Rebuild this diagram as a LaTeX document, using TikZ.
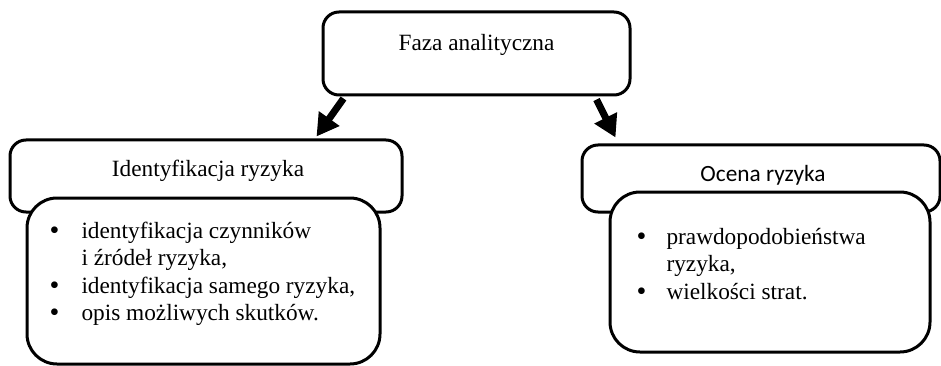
\documentclass[tikz,border=0pt]{standalone}
\usepackage{fontspec}
\setmainfont{Liberation Serif}
\newfontfamily\calibrifont{Carlito}
\usetikzlibrary{arrows.meta}

\newcommand{\bigdot}{\smash{\raisebox{-1pt}{\fontsize{28}{27.5}\selectfont\textbullet}}}

\begin{document}
\begin{tikzpicture}[x=1pt, y=-1pt, line width=3pt,
        box/.style={draw, rounded corners=16pt, fill=white, inner sep=0pt},
        listbox/.style={draw, rounded corners=30pt, fill=white, inner sep=0pt},
        txt/.style={font=\fontsize{23.3}{27.5}\selectfont, text=black, inner sep=0pt},
        bigarrow/.style={line width=7pt, -{Triangle[length=22pt, width=24pt]}}]
        % Frame
        \useasboundingbox (0,0) rectangle (941,366);

        % Top box
        \node[box, minimum width=307pt, minimum height=83pt] (faza) at (476.5,53.5) {};
        \node[txt] (fazatxt) at (476.5,45) {Faza analityczna};

        % Left branch
        \node[box, minimum width=392pt, minimum height=72pt] (ident) at (206,176) {};
        \node[txt] (identtxt) at (208,171) {Identyfikacja ryzyka};
        \node[listbox, minimum width=353pt, minimum height=166pt] (identlist) at (203.5,281) {};
        \node[txt, anchor=base west] (identitems) at (48,238) {%
            \begin{tabular}[t]{@{}p{32pt}@{}l@{}}
                \bigdot & identyfikacja czynników\\
                        & i źródeł ryzyka,\\
                \bigdot & identyfikacja samego ryzyka,\\
                \bigdot & opis możliwych skutków.
            \end{tabular}};

        % Right branch
        \node[box, minimum width=358pt, minimum height=67pt] (ocena) at (761,178.5) {};
        \node[txt, font=\calibrifont\fontsize{23.3}{27.5}\selectfont] (ocenatxt) at (763,175) {Ocena ryzyka};
        \node[listbox, minimum width=320pt, minimum height=160pt] (ocenalist) at (770,272) {};
        \node[txt, anchor=base west] (ocenaitems) at (635,244) {%
            \begin{tabular}[t]{@{}p{30pt}@{}l@{}}
                \bigdot & prawdopodobieństwa\\
                        & ryzyka,\\
                \bigdot & wielkości strat.
            \end{tabular}};

        % Arrows down
        \draw[bigarrow] ([xshift=22pt, yshift=-2pt]faza.south west) -- ([xshift=-87pt, yshift=2pt]ident.north east);
        \draw[bigarrow] ([xshift=-35pt, yshift=-3pt]faza.south east) -- ([xshift=35pt, yshift=6pt]ocena.north west);
    \end{tikzpicture}
\end{document}
